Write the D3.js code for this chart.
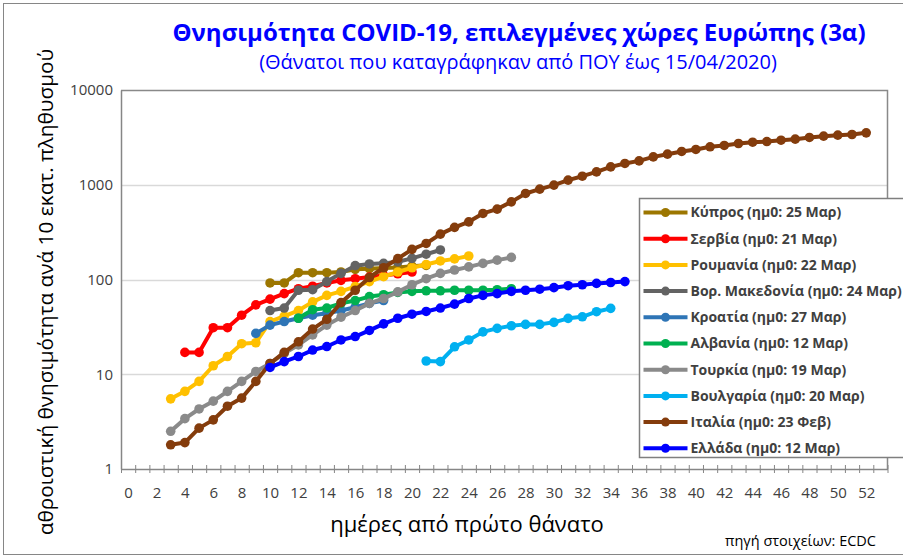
<!DOCTYPE html>
<html>
<head>
<meta charset="utf-8">
<script src="https://cdn.jsdelivr.net/npm/d3@7"></script>
<style>
  body { margin: 0; background: #fff; }
  svg { display: block; }
</style>
</head>
<body>
<svg width="903" height="558"></svg>
<script>
// ημέρες του άξονα x (κατηγορίες) και ετικέτες
const days = d3.range(0, 54);
const dayLabels = d3.range(0, 53, 2);
const yTicks = [1, 10, 100, 1000, 10000];

// ονόματα χωρών (με τη σειρά του υπομνήματος)
const countries = [
  "Κύπρος (ημ0: 25 Μαρ)", "Σερβία (ημ0: 21 Μαρ)", "Ρουμανία (ημ0: 22 Μαρ)",
  "Βορ. Μακεδονία (ημ0: 24 Μαρ)", "Κροατία (ημ0: 27 Μαρ)", "Αλβανία (ημ0: 12 Μαρ)",
  "Τουρκία (ημ0: 19 Μαρ)", "Βουλγαρία (ημ0: 20 Μαρ)", "Ιταλία (ημ0: 23 Φεβ)",
  "Ελλάδα (ημ0: 12 Μαρ)"
];
const colors = ["#9C7600", "#FF0000", "#FFC000", "#636363", "#2E75B6",
  "#00B050", "#8A8A8A", "#00B0F0", "#843C0C", "#0000FF"];

// πρώτη ημέρα κάθε σειράς
const startDays = [10, 4, 3, 10, 9, 12, 3, 21, 3, 10];

// τιμές (θάνατοι ανά 10 εκατ.)
const kypros = [92, 92, 118, 118, 118, 120, 128, 130, 132, 134, 138, 141];
const servia = [17, 17, 31, 31, 42, 54, 62, 71, 80, 85, 92, 98, 102, 106, 110, 115, 120];
const roumania = [5.5, 6.6, 8.4, 12.3, 15.4, 21, 21.5, 36, 41, 47, 58, 68, 75, 84, 95, 107,
  120, 133, 144, 157, 165, 177];
const makedonia = [47, 50, 77, 78, 95, 116, 140, 146, 148, 154, 167, 185, 205];
const kroatia = [27, 33, 36, 39, 42, 44, 47, 51, 56, 60];
const alvania = [39, 48, 50, 56, 60, 66, 69, 73, 75, 76, 76, 77, 77, 77, 78, 80];
const tourkia = [2.5, 3.4, 4.3, 5.2, 6.6, 8.4, 10.7, 13, 16.6, 20.4, 26, 33, 40, 47, 56, 63,
  74, 88, 102, 116, 126, 136, 148, 160, 171];
const voulgaria = [13.8, 13.6, 19.5, 23, 28, 30.5, 32.5, 33.6, 33.6, 35.3, 38.9, 40.4, 45.7, 49.6];
const italia = [1.8, 1.9, 2.7, 3.3, 4.6, 5.6, 8.4, 13, 17, 22, 30, 38, 57, 77, 105, 133, 166,
  208, 240, 301, 355, 406, 498, 553, 660, 809, 899, 991, 1119, 1231, 1367, 1544, 1678, 1786,
  1968, 2103, 2245, 2357, 2515, 2597, 2725, 2813, 2858, 2951, 3027, 3155, 3258, 3336, 3391, 3530];
const ellada = [11.8, 13.6, 15.4, 18, 19.6, 23, 25, 29, 34, 39, 43, 46, 50, 55, 63, 68, 71,
  75, 77, 79, 82, 86, 88, 91, 93, 95];

const values = [kypros, servia, roumania, makedonia, kroatia, alvania, tourkia, voulgaria, italia, ellada];

const series = countries.map((name, i) => ({
  name: name,
  color: colors[i],
  points: values[i].map((v, j) => ({ day: startDays[i] + j, v: v }))
}));

const svg = d3.select("svg");
const font = "'Open Sans', sans-serif";

const plotLeft = 121, plotRight = 887.5, plotTop = 90, plotBottom = 469;

const x = d3.scaleLinear().domain([-0.5, days.length - 0.5]).range([plotLeft, plotRight]);
const y = d3.scaleLog().domain([1, 10000]).range([plotBottom, plotTop]);

// εξωτερικό πλαίσιο
svg.append("rect")
  .attr("x", 3.5).attr("y", 3.5)
  .attr("width", 910).attr("height", 551)
  .attr("fill", "none").attr("stroke", "#868686").attr("stroke-width", 1);

// γραμμές πλέγματος
svg.append("g")
  .selectAll("line")
  .data([10, 100, 1000])
  .enter()
  .append("line")
  .attr("x1", plotLeft).attr("x2", plotRight)
  .attr("y1", d => Math.round(y(d)) + 0.5)
  .attr("y2", d => Math.round(y(d)) + 0.5)
  .attr("stroke", "#D9D9D9").attr("stroke-width", 1.5);

// πλαίσιο περιοχής γραφήματος (πάνω και δεξιά)
svg.append("path")
  .attr("d", `M${plotLeft},${plotTop + 0.5}H${plotRight}V${plotBottom}`)
  .attr("fill", "none").attr("stroke", "#898989").attr("stroke-width", 1.5);

// άξονας y
const yAxis = svg.append("g")
  .attr("transform", `translate(${plotLeft},0)`)
  .call(d3.axisLeft(y).tickValues(yTicks).tickFormat(d3.format("d")).tickSize(0).tickPadding(8));
yAxis.select(".domain").attr("stroke", "#868686").attr("stroke-width", 1.5);
yAxis.selectAll("text")
  .attr("font-family", font).attr("font-size", 15).attr("fill", "#404040");

// άξονας x: γραμμές ανάμεσα στις κατηγορίες
const bounds = d3.range(-0.5, days.length, 1);
const xAxis = svg.append("g")
  .attr("transform", `translate(0,${plotBottom})`)
  .call(d3.axisBottom(x).tickValues(bounds).tickSize(4).tickSizeOuter(0).tickFormat(""));
xAxis.select(".domain").attr("stroke", "#868686").attr("stroke-width", 1.5);
xAxis.selectAll(".tick line").attr("y1", -4).attr("stroke", "#868686").attr("stroke-width", 1);

const xLabels = svg.append("g")
  .attr("transform", `translate(0,${plotBottom})`)
  .call(d3.axisBottom(x).tickValues(dayLabels).tickSize(0).tickPadding(18));
xLabels.select(".domain").remove();
xLabels.selectAll("text")
  .attr("font-family", font).attr("font-size", 15).attr("fill", "#404040");

// σειρές
const line = d3.line().x(d => x(d.day)).y(d => y(d.v));

const g = svg.append("g");
series.forEach(s => {
  g.append("path")
    .datum(s.points)
    .attr("d", line)
    .attr("fill", "none")
    .attr("stroke", s.color)
    .attr("stroke-width", 4)
    .attr("stroke-linejoin", "round");

  g.selectAll(null)
    .data(s.points)
    .enter()
    .append("circle")
    .attr("cx", d => x(d.day))
    .attr("cy", d => y(d.v))
    .attr("r", 4.8)
    .attr("fill", s.color);
});

// τίτλοι
svg.append("text")
  .attr("x", 519).attr("y", 41)
  .attr("text-anchor", "middle")
  .attr("font-family", font).attr("font-weight", "bold")
  .attr("font-size", 24).attr("fill", "#0000FF")
  .text("Θνησιμότητα COVID-19, επιλεγμένες χώρες Ευρώπης (3α)");

svg.append("text")
  .attr("x", 518).attr("y", 69)
  .attr("text-anchor", "middle")
  .attr("font-family", font)
  .attr("font-size", 20).attr("fill", "#0000FF")
  .text("(Θάνατοι που καταγράφηκαν από ΠΟΥ έως 15/04/2020)");

svg.append("text")
  .attr("transform", "translate(53,292) rotate(-90)")
  .attr("text-anchor", "middle")
  .attr("font-family", font)
  .attr("font-size", 20.8).attr("fill", "#000")
  .text("αθροιστική θνησιμότητα ανά 10 εκατ. πληθυσμού");

svg.append("text")
  .attr("x", 467).attr("y", 532)
  .attr("text-anchor", "middle")
  .attr("font-family", font)
  .attr("font-size", 22).attr("fill", "#000")
  .text("ημέρες από πρώτο θάνατο");

svg.append("text")
  .attr("x", 876).attr("y", 546)
  .attr("text-anchor", "end")
  .attr("font-family", font)
  .attr("font-size", 14.5).attr("fill", "#000")
  .text("πηγή στοιχείων: ECDC");

// υπόμνημα
const legend = svg.append("g").attr("transform", "translate(639.5,198.5)");
legend.append("rect")
  .attr("width", 300).attr("height", 259)
  .attr("fill", "#fff").attr("stroke", "#7F7F7F").attr("stroke-width", 1.5);

const item = legend.selectAll("g.item")
  .data(series)
  .enter()
  .append("g")
  .attr("class", "item")
  .attr("transform", (d, i) => `translate(0,${14 + i * 26.2})`);

item.append("line")
  .attr("x1", 4).attr("x2", 48)
  .attr("stroke", d => d.color).attr("stroke-width", 4);
item.append("circle")
  .attr("cx", 26).attr("r", 4.5)
  .attr("fill", d => d.color);
item.append("text")
  .attr("x", 51).attr("dy", "0.35em")
  .attr("font-family", font).attr("font-weight", "bold")
  .attr("font-size", 14).attr("fill", "#404040")
  .text(d => d.name);
</script>
</body>
</html>
